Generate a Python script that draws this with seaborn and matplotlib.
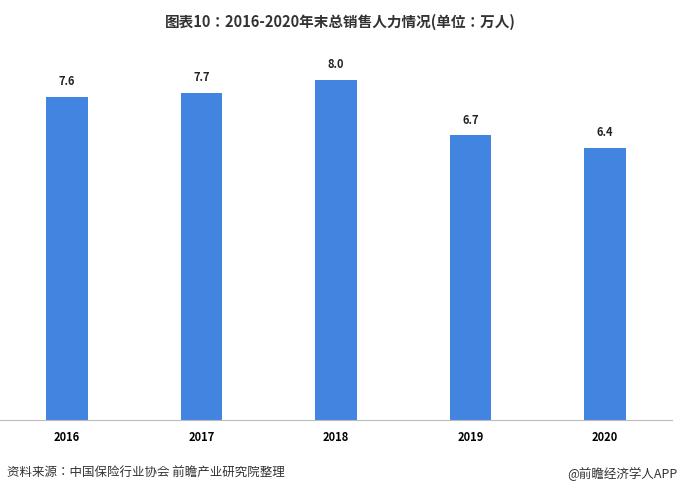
import matplotlib.pyplot as plt
import seaborn as sns
import pandas as pd

# 数据
years = ["2016", "2017", "2018", "2019", "2020"]
values = [7.6, 7.7, 8.0, 6.7, 6.4]

df = pd.DataFrame({"year": years, "value": values})

plt.rcParams["font.family"] = "sans-serif"
plt.rcParams["font.sans-serif"] = ["Noto Sans CJK SC", "Noto Sans CJK JP",
                                   "Noto Sans CJK TC", "DejaVu Sans"]

fig = plt.figure(figsize=(6.81, 4.96), dpi=100)
ax = fig.add_axes([0.0, 0.153, 0.987, 0.746])

sns.barplot(x="year", y="value", data=df, color="#4285e0", width=0.31,
            saturation=1, ax=ax)

for i, v in enumerate(values):
    ax.text(i, v + 0.2, f"{v:.1f}", ha="center", va="bottom",
            fontsize=8, fontweight="bold", color="#222222")

ax.set_ylim(0, 8.7)
ax.set_xlim(-0.5, 4.5)
ax.set_xlabel("")
ax.set_ylabel("")
ax.set_yticks([])
ax.tick_params(axis="x", length=0, labelsize=8, pad=8)
for lbl in ax.get_xticklabels():
    lbl.set_fontweight("bold")
for s in ["top", "right", "left"]:
    ax.spines[s].set_visible(False)
ax.spines["bottom"].set_color("#bbbbbb")

fig.text(0.5, 0.955, "图表10：2016-2020年末总销售人力情况(单位：万人)",
         ha="center", va="center", fontsize=10.5, fontweight="bold", color="#333333")
fig.text(0.01, 0.045, "资料来源：中国保险行业协会 前瞻产业研究院整理",
         ha="left", va="center", fontsize=9, color="#333333")
fig.text(0.995, 0.045, "@前瞻经济学人APP",
         ha="right", va="center", fontsize=9, color="#333333")

fig.savefig("out.png", dpi=100)
